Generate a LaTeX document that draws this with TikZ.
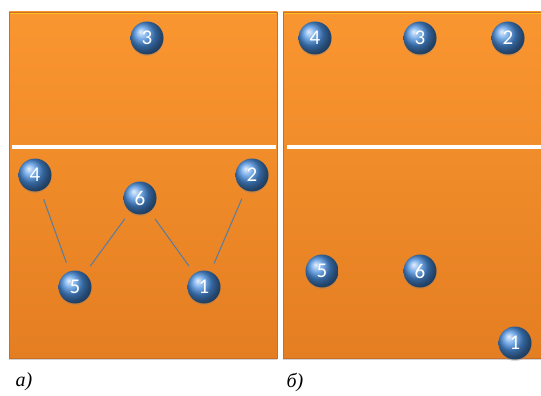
\documentclass[tikz,border=0pt]{standalone}
\usepackage{fontspec}
\setmainfont{Liberation Serif}
\newfontfamily\numfont{Carlito}
\usetikzlibrary{shadows}
\definecolor{courttop}{RGB}{250,150,48}
\definecolor{courtbot}{RGB}{228,126,34}
\definecolor{courtedge}{RGB}{200,110,40}
\definecolor{balltone}{RGB}{75,145,225}
\definecolor{linkcol}{RGB}{95,125,155}
\tikzset{
  court/.style={top color=courttop, bottom color=courtbot, draw=courtedge, line width=0.8pt,
    drop shadow={shadow xshift=0pt, shadow yshift=-2pt, opacity=0.35}},
  netline/.style={draw=white, line width=3.5pt},
  player/.style={circle, minimum size=33pt, inner sep=0pt, shading=ball, ball color=balltone,
    text=white, font=\numfont\fontsize{21}{21}\selectfont,
    drop shadow={shadow xshift=0pt, shadow yshift=-1.5pt, opacity=0.3}},
  link/.style={draw=linkcol, line width=1.1pt, shorten <=9pt, shorten >=9pt},
  caption/.style={font=\itshape\fontsize{20}{20}\selectfont, anchor=west}
}
\begin{document}
\begin{tikzpicture}[x=1pt,y=-1pt]
\useasboundingbox (0,0) rectangle (541,396);
% courts
\path[court] (9,12) rectangle (277,358);
\path[court] (283,12) rectangle (545,358);
\draw[draw=courttop!60!yellow, line width=1.5pt] (10,13.5) -- (276,13.5);
\draw[draw=courttop!60!yellow, line width=1.5pt] (284,13.5) -- (541,13.5);
% nets
\coordinate (netLa) at (12,147);
\coordinate (netLb) at (276,147);
\coordinate (netRa) at (287,147);
\coordinate (netRb) at (541,147);
\draw[netline] (netLa) -- (netLb);
\draw[netline] (netRa) -- (netRb);
% left court players
\node[player] (a3) at (147,38) {3};
\node[player] (a4) at (35,175) {4};
\node[player] (a2) at (252,175) {2};
\node[player] (a6) at (140,198) {6};
\node[player] (a5) at (75,287) {5};
\node[player] (a1) at (204,287) {1};
\draw[link] (a4) -- (a5);
\draw[link] (a6) -- (a5);
\draw[link] (a6) -- (a1);
\draw[link] (a2) -- (a1);
% right court players
\node[player] (b4) at (315,38) {4};
\node[player] (b3) at (420,38) {3};
\node[player] (b2) at (508,38) {2};
\node[player] (b5) at (322,271) {5};
\node[player] (b6) at (420,271) {6};
\node[player] (b1) at (515,343) {1};
% captions
\node[caption] (capa) at (12,382) {а)};
\node[caption] (capb) at (283,382) {б)};
\end{tikzpicture}
\end{document}
